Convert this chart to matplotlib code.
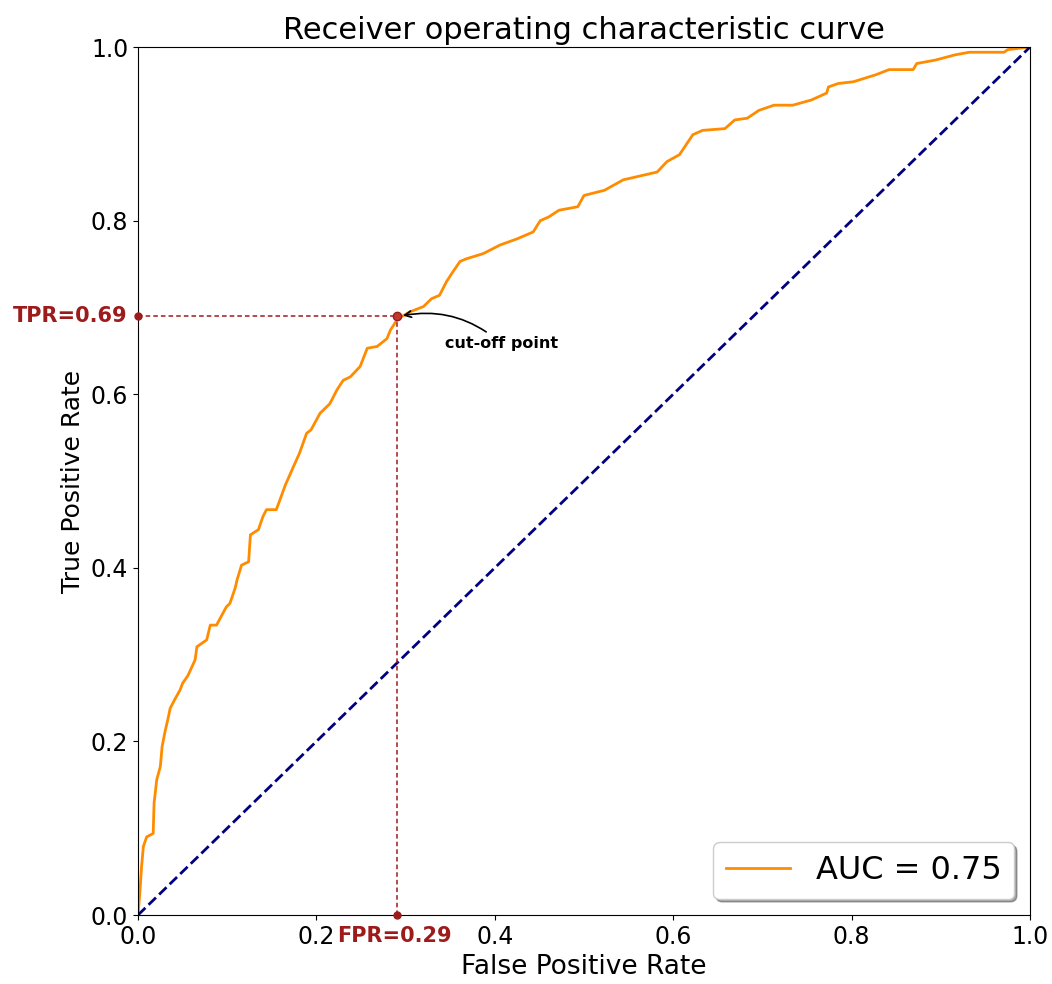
import matplotlib
matplotlib.use("Agg")
import matplotlib.pyplot as plt

fpr = [0, 0.002, 0.004, 0.006, 0.0097, 0.017, 0.018, 0.021, 0.025, 0.027, 0.030, 0.034,
       0.036, 0.041, 0.047, 0.050, 0.056, 0.064, 0.066, 0.077, 0.081, 0.088, 0.099, 0.103,
       0.109, 0.111, 0.116, 0.124, 0.126, 0.135, 0.140, 0.144, 0.155, 0.159, 0.165, 0.174,
       0.181, 0.189, 0.194, 0.204, 0.215, 0.223, 0.230, 0.238, 0.249, 0.257, 0.268, 0.279,
       0.283, 0.290, 0.293, 0.305, 0.320, 0.329, 0.338, 0.346, 0.353, 0.361, 0.368, 0.387,
       0.406, 0.425, 0.443, 0.451, 0.460, 0.472, 0.493, 0.500, 0.523, 0.544, 0.582, 0.593,
       0.607, 0.622, 0.633, 0.658, 0.669, 0.683, 0.696, 0.713, 0.734, 0.755, 0.772, 0.774,
       0.785, 0.802, 0.827, 0.842, 0.869, 0.873, 0.894, 0.916, 0.932, 0.971, 0.975, 1.0]
tpr = [0, 0.025, 0.056, 0.079, 0.090, 0.094, 0.129, 0.156, 0.171, 0.194, 0.210, 0.228,
       0.238, 0.248, 0.259, 0.267, 0.276, 0.294, 0.309, 0.317, 0.334, 0.334, 0.355, 0.359,
       0.377, 0.386, 0.403, 0.407, 0.438, 0.444, 0.459, 0.467, 0.467, 0.478, 0.495, 0.516,
       0.532, 0.555, 0.559, 0.578, 0.589, 0.605, 0.616, 0.620, 0.632, 0.653, 0.655, 0.664,
       0.674, 0.685, 0.688, 0.695, 0.701, 0.710, 0.714, 0.730, 0.741, 0.753, 0.756, 0.762,
       0.772, 0.779, 0.787, 0.800, 0.804, 0.812, 0.816, 0.829, 0.835, 0.847, 0.856, 0.868,
       0.876, 0.899, 0.904, 0.906, 0.916, 0.918, 0.927, 0.933, 0.933, 0.939, 0.947, 0.954,
       0.958, 0.960, 0.968, 0.974, 0.974, 0.981, 0.985, 0.991, 0.994, 0.994, 0.997, 1.0]
auc_value = 0.75
cut_fpr = 0.29
cut_tpr = 0.69
diag = [0, 1]

red = '#9e1b1b'

fig = plt.figure(figsize=(10.52, 9.84), dpi=100)
ax = fig.add_axes([0.1312, 0.0701, 0.8479, 0.8821])

ax.plot(fpr, tpr, color='darkorange', lw=2, label=f'AUC = {auc_value:.2f}')
ax.plot(diag, diag, color='navy', lw=2, linestyle='--')

ax.plot([0, cut_fpr], [cut_tpr, cut_tpr], color=red, lw=1.1, linestyle='--', dashes=(3, 2))
ax.plot([cut_fpr, cut_fpr], [0, cut_tpr], color=red, lw=1.1, linestyle='--', dashes=(3, 2))
ax.plot([cut_fpr], [cut_tpr], 'o', color=red, markersize=6, markerfacecolor='#c0392b', zorder=5)
ax.plot([0], [cut_tpr], 'o', color=red, markersize=5, clip_on=False, zorder=5)
ax.plot([cut_fpr], [0], 'o', color=red, markersize=5, clip_on=False, zorder=5)

ax.annotate('cut-off point', xy=(cut_fpr + 0.004, cut_tpr), xytext=(0.344, 0.653),
            fontsize=11.5, fontweight='bold', color='black',
            arrowprops=dict(arrowstyle='->', color='black', lw=1.2,
                            connectionstyle='arc3,rad=0.25'))

ax.text(-0.012, cut_tpr, f'TPR={cut_tpr:.2f}', color=red, fontsize=15, fontweight='bold',
        ha='right', va='center', transform=ax.transData, clip_on=False)
ax.text(cut_fpr - 0.003, -0.013, f'FPR={cut_fpr:.2f}', color=red, fontsize=15, fontweight='bold',
        ha='center', va='top', transform=ax.transData, clip_on=False)

ax.set_xlim(0, 1)
ax.set_ylim(0, 1)
ax.set_xticks([0, 0.2, 0.4, 0.6, 0.8, 1.0])
ax.set_yticks([0, 0.2, 0.4, 0.6, 0.8, 1.0])
ax.tick_params(labelsize=17)
ax.set_xlabel('False Positive Rate', fontsize=19)
ax.set_ylabel('True Positive Rate', fontsize=18)
ax.set_title('Receiver operating characteristic curve', fontsize=22)
ax.legend(loc='lower right', fontsize=23, shadow=True)

fig.savefig('out.png', dpi=100)
